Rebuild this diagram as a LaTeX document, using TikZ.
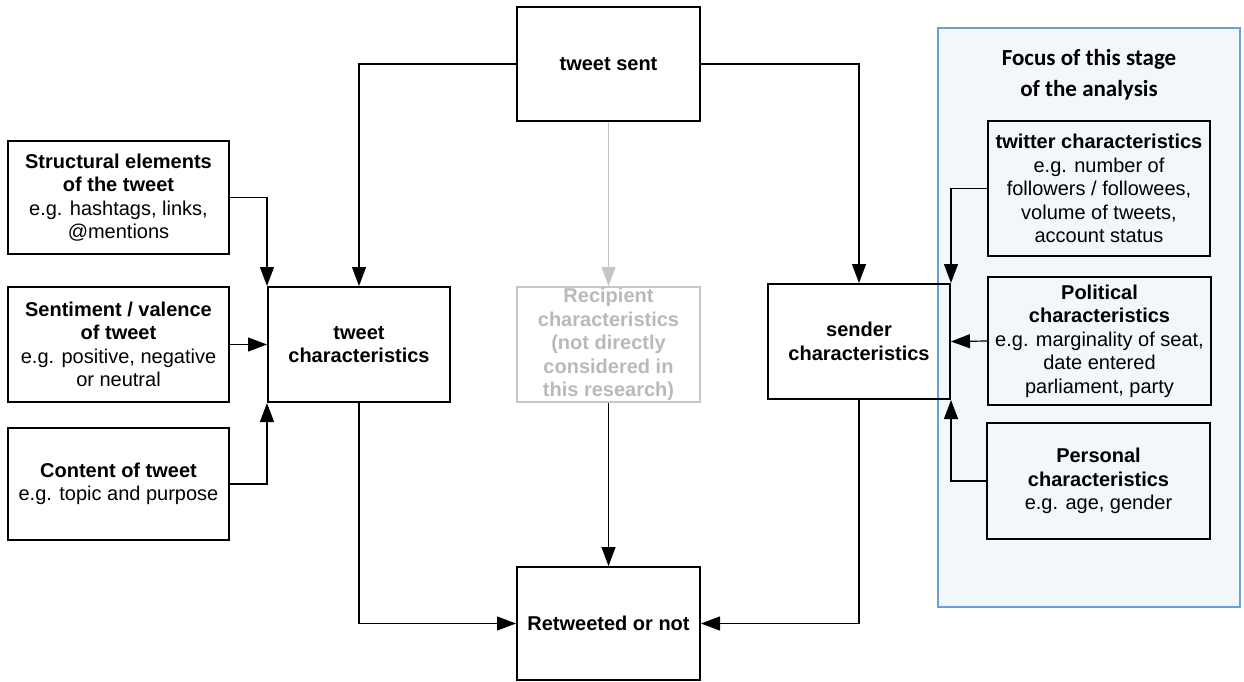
\documentclass[tikz,border=0pt]{standalone}
\usepackage{fontspec}
\setmainfont{Liberation Sans}
\newfontfamily\calibri{Carlito}
\usetikzlibrary{arrows.meta}
\definecolor{panelblue}{HTML}{6A9FDA}
\definecolor{panelfill}{HTML}{F3F6FA}
\definecolor{mutedline}{HTML}{C6C6C6}
\definecolor{mutedtext}{HTML}{B9B9B9}
\begin{document}
\begin{tikzpicture}[x=1pt,y=-1pt,
  box/.style={draw, line width=2pt, align=center, inner sep=0pt,
    font=\fontsize{20}{23.5}\selectfont},
  link/.style={line width=1.2pt, -{Triangle[length=19pt,width=14pt]}},
]
\useasboundingbox (0,0) rectangle (1244,681);

% focus panel
\node[draw=panelblue, fill=panelfill, line width=1.5pt, inner sep=0pt,
  minimum width=302pt, minimum height=579pt] (panel) at (1089,317.5) {};
\node[font=\calibri\bfseries\fontsize{23}{31}\selectfont, align=center]
  (title) at (1089,75) {Focus of this stage\\of the analysis};

% central column
\node[box, minimum width=183pt, minimum height=114pt] (sent) at (608.5,64)
  {\textbf{tweet sent}};
\node[box, draw=mutedline, text=mutedtext, minimum width=183pt, minimum height=115pt]
  (recip) at (608.5,344.5)
  {\textbf{Recipient}\\\textbf{characteristics}\\\textbf{(not directly}\\\textbf{considered in}\\\textbf{this research)}};
\node[box, minimum width=183pt, minimum height=113pt] (retweet) at (608.5,623.5)
  {\textbf{Retweeted or not}};

% tweet and sender
\node[box, minimum width=182pt, minimum height=115pt] (tweetchar) at (359,344.5)
  {\textbf{tweet}\\\textbf{characteristics}};
\node[box, minimum width=182pt, minimum height=115pt] (sender) at (859,341.5)
  {\textbf{sender}\\\textbf{characteristics}};

% tweet-level factors
\node[box, minimum width=221pt, minimum height=113pt] (struct) at (118.5,197.5)
  {\textbf{Structural elements}\\\textbf{of the tweet}\\e.g. hashtags, links,\\@mentions};
\node[box, minimum width=221pt, minimum height=115pt] (sentiment) at (118.5,344.5)
  {\textbf{Sentiment / valence}\\\textbf{of tweet}\\e.g. positive, negative\\or neutral};
\node[box, minimum width=221pt, minimum height=112pt] (content) at (118.5,484)
  {\textbf{Content of tweet}\\e.g. topic and purpose};

% sender-level factors
\node[box, minimum width=222pt, minimum height=135pt] (twitter) at (1099,188.5)
  {\textbf{twitter characteristics}\\e.g. number of\\followers / followees,\\volume of tweets,\\account status};
\node[box, minimum width=223pt, minimum height=128pt] (political) at (1099.5,341)
  {\textbf{Political}\\\textbf{characteristics}\\e.g. marginality of seat,\\date entered\\parliament, party};
\node[box, minimum width=223pt, minimum height=116pt] (personal) at (1098.5,481)
  {\textbf{Personal}\\\textbf{characteristics}\\e.g. age, gender};

% connectors
\draw[link] (struct.east) -| (tweetchar.north west);
\draw[link] (sentiment.east) -- (tweetchar.west);
\draw[link] (content.east) -| (tweetchar.south west);

\draw[link] (sent.west) -| (tweetchar.north);
\draw[link] (sent.east) -| (sender.north);
\draw[link, mutedline] (sent.south) -- (recip.north);
\draw[link] (recip.south) -- (retweet.north);

\draw[link] (tweetchar.south) |- (retweet.west);
\draw[link] (sender.south) |- (retweet.east);

\draw[link] (twitter.west) -| (sender.north east);
\draw[link] (political.west) -- (sender.east);
\draw[link] (personal.west) -| (sender.south east);
\end{tikzpicture}
\end{document}
